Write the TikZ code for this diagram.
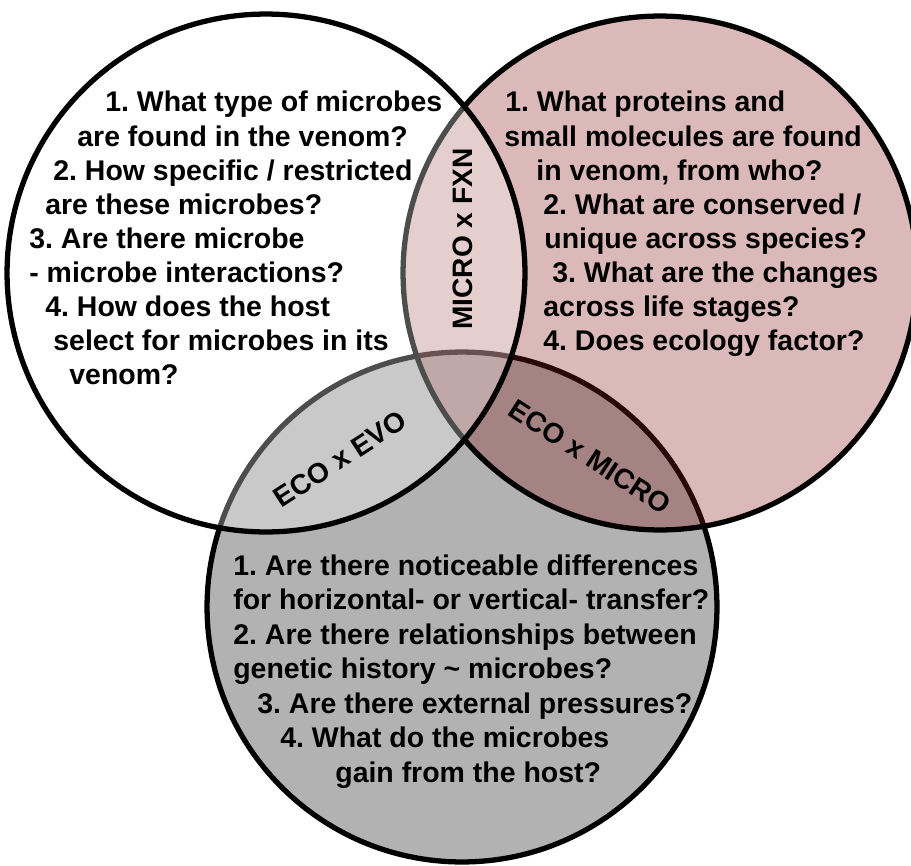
\documentclass[tikz,border=0pt]{standalone}
\usepackage{fontspec}
\setmainfont{Liberation Sans}
\usepackage{tikz}
\usepackage{xcolor}
\definecolor{venomred}{RGB}{138,25,25}
\frenchspacing

\begin{document}
\begin{tikzpicture}[x=0.02cm, y=-0.02cm,
  qtext/.style={anchor=base west, inner sep=0pt, font=\fontsize{16.2}{19}\selectfont\bfseries},
  tag/.style={inner sep=0pt, font=\fontsize{16}{19}\selectfont\bfseries}]
  \clip (0,0) rectangle (911,865);
  \fill[white] (0,0) rectangle (911,865);
  \coordinate (ecoc) at (462,607);
  \coordinate (fxnc) at (660,273);
  \coordinate (microc) at (266,273);
  \draw[line width=3pt, fill=black!30] (ecoc) circle[radius=5.1cm]; % ECO circle
  \draw[line width=3pt, fill=venomred, fill opacity=0.3] (fxnc) circle[radius=5.14cm]; % FXN circle
  \draw[line width=3pt, fill=white, fill opacity=0.3] (microc) circle[radius=5.18cm]; % MICRO circle

  % questions
  \foreach \x/\y/\t [count=\i] in {105/112/{1. What type of microbes}, 77/146/{are found in the venom?},
    53/180/{2. How specific / restricted}, 45/214/{are these microbes?}, 29/248/{3. Are there microbe},
    29/282/{- microbe interactions?}, 45/316/{4. How does the host}, 53/350/{select for microbes in its},
    69/384/{venom?}}
    \node[qtext] (micro\i) at (\x,\y) {\t};
  \foreach \x/\y/\t [count=\i] in {505/112/{1. What proteins and}, 504/146/{small molecules are found},
    536/180/{in venom, from who?}, 543/214/{2. What are conserved /}, 544/248/{unique across species?},
    552/282/{3. What are the changes}, 543/316/{across life stages?}, 543/350/{4. Does ecology factor?}}
    \node[qtext] (fxn\i) at (\x,\y) {\t};
  \foreach \x/\y/\t [count=\i] in {233/575/{1. Are there noticeable differences},
    233/609.5/{for horizontal- or vertical- transfer?}, 233/644/{2. Are there relationships between},
    233/678.5/{genetic history \textasciitilde\ microbes?}, 257/713/{3. Are there external pressures?},
    280/747.5/{4. What do the microbes}, 335/782/{gain from the host?}}
    \node[qtext] (eco\i) at (\x,\y) {\t};

  % overlaps
  \node[tag, rotate=90] (microfxn) at (463,239) {MICRO x FXN};
  \node[tag, rotate=33] (ecoevo) at (340,459) {ECO x EVO};
  \node[tag, rotate=-33] (ecomicro) at (590,457) {ECO x MICRO};
\end{tikzpicture}
\end{document}
